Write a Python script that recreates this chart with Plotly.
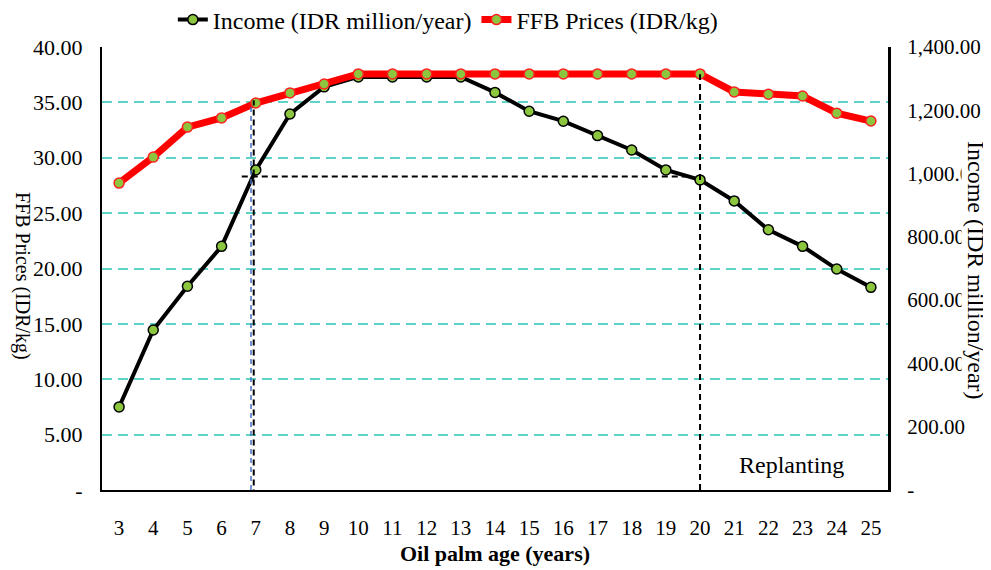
import plotly.graph_objects as go

ages = list(range(3, 26))
income = [7.5, 14.45, 18.4, 22.0, 28.9, 33.95, 36.4, 37.3, 37.3, 37.3, 37.3, 35.9, 34.2,
          33.3, 32.0, 30.7, 28.9, 28.0, 26.1, 23.5, 22.0, 19.95, 18.3]
ffb_price = [970, 1052, 1147, 1176, 1223, 1255, 1283, 1315, 1315, 1315, 1315, 1315, 1315,
             1315, 1315, 1315, 1315, 1315, 1258, 1251, 1245, 1191, 1166]

left_ticks = [0, 5, 10, 15, 20, 25, 30, 35, 40]
left_text = ["-", "5.00", "10.00", "15.00", "20.00", "25.00", "30.00", "35.00", "40.00"]
right_ticks = [0, 200, 400, 600, 800, 1000, 1200, 1400]
right_text = ["-", "200.00", "400.00", "600.00", "800.00", "1,000.00", "1,200.00", "1,400.00"]

FONT = "Liberation Serif"
GREEN = "#8CC63F"
GRID = "#5ED4C8"

fig = go.Figure()
fig.add_trace(go.Scatter(
    x=ages, y=income, name="Income (IDR million/year)", mode="lines+markers",
    line=dict(color="black", width=4),
    marker=dict(size=10, color=GREEN, line=dict(color="black", width=1.5)),
    yaxis="y"))
fig.add_trace(go.Scatter(
    x=ages, y=ffb_price, name="FFB Prices (IDR/kg)", mode="lines+markers",
    line=dict(color="#FF0000", width=7),
    marker=dict(size=10, color=GREEN, line=dict(color="#FF2020", width=1.5)),
    yaxis="y2"))

shapes = [
    dict(type="line", xref="x", yref="y", x0=6.86, x1=6.86, y0=0, y1=34.9,
         line=dict(color="#4472C4", width=1.5, dash="5px,4px")),
    dict(type="line", xref="x", yref="y", x0=6.94, x1=6.94, y0=-0.5, y1=35.2,
         line=dict(color="black", width=2, dash="6px,4px")),
    dict(type="line", xref="x", yref="y", x0=6.59, x1=19.6, y0=28.3, y1=28.3,
         line=dict(color="black", width=2, dash="6px,4px")),
    dict(type="line", xref="x", yref="y", x0=20, x1=20, y0=0, y1=37.55,
         line=dict(color="black", width=2, dash="6px,4px")),
]

# page pixel positions (page has an 8px body margin)
annotations = [
    dict(text="Replanting", x=791, y=465, showarrow=False,
         font=dict(family=FONT, size=24, color="black")),
    dict(text="FFB Prices (IDR/kg)", x=23, y=276, textangle=90, showarrow=False,
         font=dict(family=FONT, size=20, color="black")),
    dict(text="Income (IDR million/year)", x=976, y=271, textangle=90, showarrow=False,
         bgcolor="white", font=dict(family=FONT, size=24, color="black")),
    dict(text="<b>Oil palm age (years)</b>", x=495, y=553, showarrow=False,
         font=dict(family=FONT, size=22, color="black")),
]
OFF = 8
PL, PR, PT, PB = 102, 888, 47, 490  # plot area in page pixels
FW, FH = 991 - OFF, 570 - OFF
L, T = PL - OFF, PT - OFF
R, B = 991 - PR, 570 - PB
W, H = PR - PL, PB - PT
for a in annotations:
    a["xref"] = "paper"
    a["yref"] = "paper"
    a["x"] = (a["x"] - PL) / W
    a["y"] = (PB - a["y"]) / H
    a["xanchor"] = "center"
    a["yanchor"] = "middle"

fig.update_layout(
    width=FW, height=FH,
    margin=dict(l=L, r=R, t=T, b=B, autoexpand=False),
    paper_bgcolor="white", plot_bgcolor="white",
    font=dict(family=FONT, size=22, color="black"),
    showlegend=True,
    legend=dict(orientation="h", x=0.44, xanchor="center", y=(PB - 20) / H, yanchor="middle",
                font=dict(family=FONT, size=24), bgcolor="rgba(0,0,0,0)"),
    xaxis=dict(range=[2.5, 25.5], tickvals=ages, ticktext=[str(a) for a in ages],
               showgrid=False, zeroline=False, showline=True, linecolor="black", linewidth=2,
               ticks="", ticklabelstandoff=18, tickfont=dict(family=FONT, size=21)),
    yaxis=dict(range=[0, 40], tickvals=left_ticks, ticktext=left_text,
               showgrid=True, gridcolor=GRID, gridwidth=2, griddash="10px,6px",
               zeroline=False, showline=True, linecolor="black", linewidth=2,
               ticks="", ticklabelstandoff=13, tickfont=dict(family=FONT, size=22)),
    yaxis2=dict(range=[0, 1400], tickvals=right_ticks, ticktext=right_text,
                overlaying="y", side="right", showgrid=False, zeroline=False,
                showline=True, linecolor="black", linewidth=3,
                ticks="", ticklabelstandoff=12, tickfont=dict(family=FONT, size=21)),
    shapes=shapes,
    annotations=annotations,
)

fig.write_html("out.html")
